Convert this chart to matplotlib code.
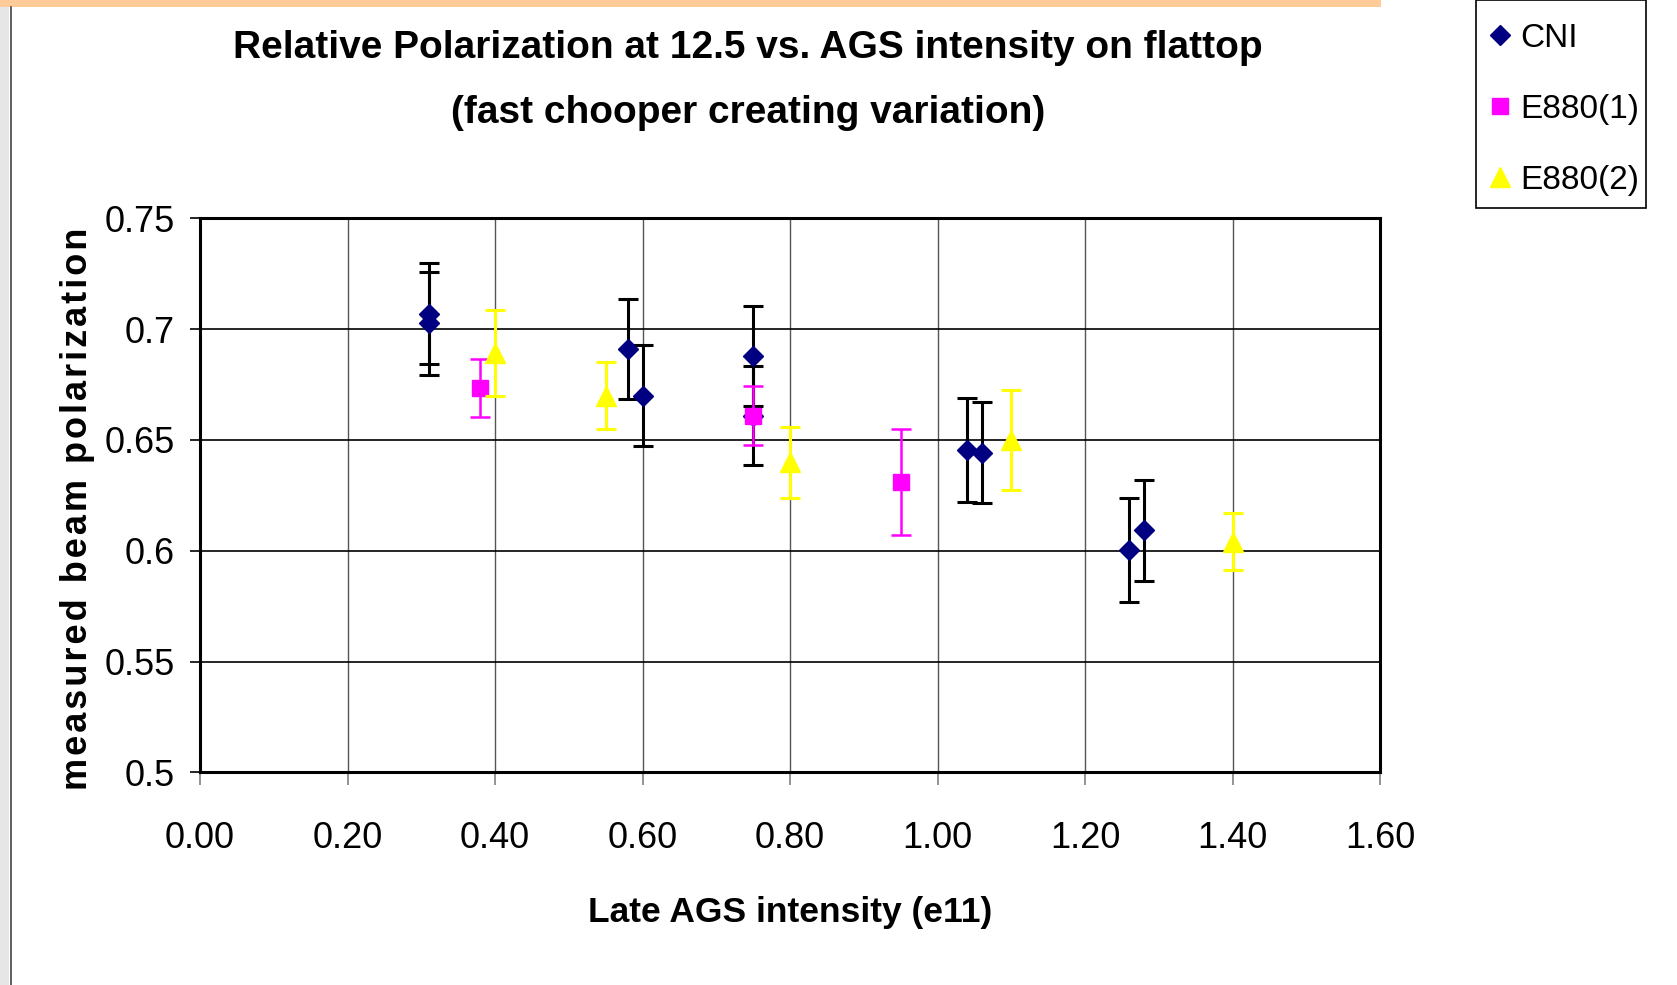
import matplotlib.pyplot as plt
from matplotlib.lines import Line2D
from matplotlib.patches import Rectangle

plt.rcParams['font.family'] = ['Liberation Sans', 'DejaVu Sans']

# CNI measurements
cni_x = [0.31, 0.31, 0.58, 0.60, 0.75, 0.75, 1.04, 1.06, 1.26, 1.28]
cni_y = [0.707, 0.7026, 0.691, 0.670, 0.688, 0.661, 0.6454, 0.6442, 0.6003, 0.6092]
cni_err = [0.0226, 0.0233, 0.0226, 0.0227, 0.0225, 0.0225, 0.0235, 0.0227, 0.0235, 0.0227]

# E880(1) measurements
e1_x = [0.38, 0.75, 0.95]
e1_y = [0.6735, 0.661, 0.631]
e1_err = [0.013, 0.0135, 0.024]

# E880(2) measurements
e2_x = [0.40, 0.55, 0.80, 1.10, 1.40]
e2_y = [0.6892, 0.670, 0.640, 0.650, 0.604]
e2_err = [0.0194, 0.015, 0.016, 0.0227, 0.0128]

series_names = ["CNI", "E880(1)", "E880(2)"]
x_ticks = [0.0, 0.2, 0.4, 0.6, 0.8, 1.0, 1.2, 1.4, 1.6]
y_ticks = [0.5, 0.55, 0.6, 0.65, 0.7, 0.75]
y_ticklabels = ["0.5", "0.55", "0.6", "0.65", "0.7", "0.75"]

fig = plt.figure(figsize=(16.77, 9.85), dpi=100)
ax = fig.add_axes([0.1193, 0.2159, 0.7036, 0.5625])

ax.errorbar(cni_x, cni_y, yerr=cni_err, fmt='D', color='#000080', ms=10.5,
            ecolor='black', elinewidth=2.2, capsize=7, capthick=2.2, zorder=3)
ax.errorbar(e1_x, e1_y, yerr=e1_err, fmt='s', color='#FF00FF', ms=11,
            ecolor='#FF00FF', elinewidth=1.8, capsize=7, capthick=1.8, zorder=4)
ax.errorbar(e2_x, e2_y, yerr=e2_err, fmt='^', color='#FFFF00', ms=14,
            ecolor='#FFFF00', elinewidth=2.2, capsize=7, capthick=2.2, zorder=5)

ax.set_xlim(0, 1.6)
ax.set_ylim(0.5, 0.75)
ax.set_xticks(x_ticks)
ax.set_xticklabels([f"{t:.2f}" for t in x_ticks])
ax.set_yticks(y_ticks)
ax.set_yticklabels(y_ticklabels)
ax.tick_params(axis='both', labelsize=26)
ax.tick_params(axis='y', length=7, width=1.2, color='black', pad=11)
ax.tick_params(axis='x', length=9, width=1.2, color='#808080', pad=26)

ax.yaxis.grid(True, color='black', linewidth=1.2)
ax.xaxis.grid(True, color='#555555', linewidth=1.0)
ax.set_axisbelow(True)
for s in ax.spines.values():
    s.set_linewidth(2.2)
    s.set_color('black')

ax.set_xlabel("Late AGS intensity (e11)", fontsize=25.5, fontweight='bold', labelpad=29)
# letter-spaced y label, as in the original
hair = "\u200a"
ylab = "measured beam polarization"
ax.set_ylabel(hair.join(ylab), fontsize=26, fontweight='bold')
ax.yaxis.set_label_coords(-0.089, 0.475)

fig.text(0.446, 0.951, "Relative Polarization at 12.5 vs. AGS intensity on flattop",
         ha='center', va='center', fontsize=28, fontweight='bold')
fig.text(0.446, 0.885, "(fast chooper creating variation)",
         ha='center', va='center', fontsize=28, fontweight='bold')

handles = [
    Line2D([], [], marker='D', color='#000080', ls='none', ms=10),
    Line2D([], [], marker='s', color='#FF00FF', ls='none', ms=11),
    Line2D([], [], marker='^', color='#FFFF00', ls='none', ms=14),
]
fig.legend(handles, series_names, loc='upper left',
           bbox_to_anchor=(0.8867, 0.9765), fontsize=24, frameon=False,
           borderaxespad=0, borderpad=0, handlelength=0.8,
           handletextpad=0.2, labelspacing=1.2)
# legend frame
fig.patches.append(Rectangle((0.8801, 0.7888), 0.1014, 0.2112, transform=fig.transFigure,
                             facecolor='none', edgecolor='black', linewidth=1.2))

# slide decorations
fig.patches.append(Rectangle((0, 0.993), 0.8235, 0.007, transform=fig.transFigure,
                             facecolor='#FFCC99', edgecolor='none'))
fig.patches.append(Rectangle((0, 0), 0.0055, 0.993, transform=fig.transFigure,
                             facecolor='#E6E6E6', edgecolor='none'))
fig.add_artist(Line2D([0.0068, 0.0068], [0, 0.993], transform=fig.transFigure,
                      color='#444444', linewidth=1.2))

plt.savefig("out.png", dpi=100)
